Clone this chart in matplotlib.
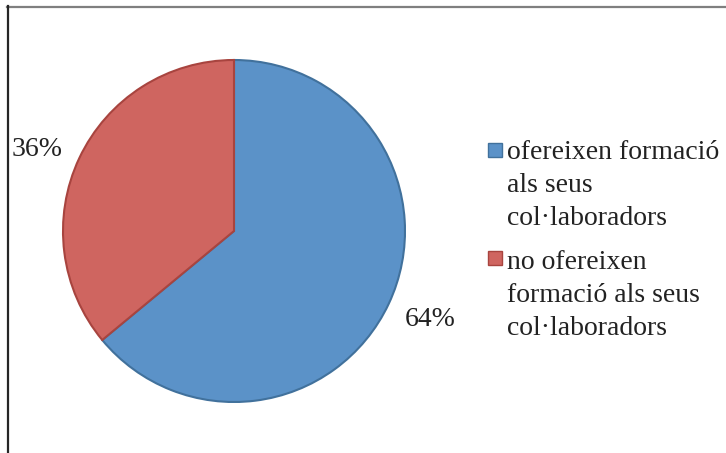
import matplotlib
matplotlib.use("Agg")
import matplotlib.pyplot as plt
from matplotlib.lines import Line2D
from matplotlib.patches import Rectangle

plt.rcParams['font.family'] = ['Liberation Serif', 'DejaVu Serif']

# share of companies
labels = ["ofereixen formació\nals seus\ncol·laboradors",
          "no ofereixen\nformació als seus\ncol·laboradors"]
values = [64, 36]
pct_labels = ["64%", "36%"]
colors = ["#5b92c8", "#cf6560"]
edges = ["#41719c", "#a8443f"]

W, H = 726, 453
fig = plt.figure(figsize=(W / 100, H / 100), dpi=100)

# pie centred at (234, 231) px, radius 171 px
cx, cy, r = 234, 231, 171
ax = fig.add_axes([(cx - r) / W, (H - cy - r) / H, 2 * r / W, 2 * r / H])
wedges, _ = ax.pie(values, colors=colors, startangle=90, counterclock=False,
                   radius=1, wedgeprops=dict(linewidth=1.5))
for w, ec in zip(wedges, edges):
    w.set_edgecolor(ec)
ax.set_xlim(-1, 1)
ax.set_ylim(-1, 1)

# percentage labels outside the slices
label_pos = [(1.146, -0.52), (-1.152, 0.478)]
for (lx, ly), t in zip(label_pos, pct_labels):
    ax.text(lx, ly, t, ha='center', va='center', fontsize=20, color='#222222')

# legend drawn by hand: square swatch + wrapped label
# (multi-line text with va='baseline' sits on its last line)
swatch_rows = [150, 258]
text_baselines = [225, 335]
for row, base, lab, c, ec in zip(swatch_rows, text_baselines, labels, colors, edges):
    fig.patches.append(Rectangle((488 / W, (H - row - 7) / H), 14 / W, 14 / H,
                                 transform=fig.transFigure, facecolor=c,
                                 edgecolor=ec, linewidth=1))
    fig.text(507 / W, (H - base) / H, lab, ha='left', va='baseline',
             fontsize=20, color='#222222', linespacing=1.415)

# frame lines at top and left
fig.add_artist(Line2D([7 / W, 1], [1 - 6.5 / H, 1 - 6.5 / H], transform=fig.transFigure,
                      color='#7f7f7f', linewidth=1.6))
fig.add_artist(Line2D([7.5 / W, 7.5 / W], [0, 1 - 6 / H], transform=fig.transFigure,
                      color='#262626', linewidth=1.6))

fig.savefig("out.png", dpi=100)
